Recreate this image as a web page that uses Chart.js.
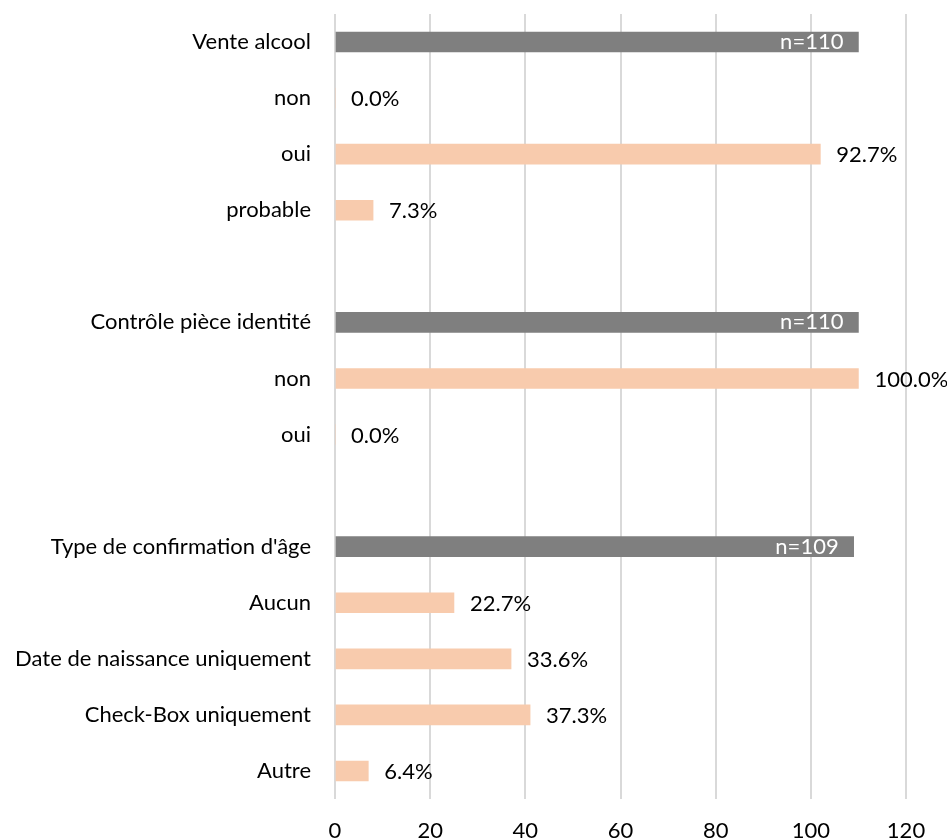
<!DOCTYPE html>
<html>
<head>
<meta charset="utf-8">
<script src="https://cdn.jsdelivr.net/npm/chart.js@4/dist/chart.umd.min.js"></script>
<style>
  html, body { margin:0; padding:0; background:#fff; }
  #wrap { width:947px; height:839px; }
</style>
</head>
<body>
<div id="wrap"><canvas id="chart" width="947" height="839"></canvas></div>
<script>
// rows top to bottom, blank strings are empty spacer rows
let categories = ["Vente alcool","non","oui","probable","",
  "Contrôle pièce identité","non","oui","",
  "Type de confirmation d'âge","Aucun","Date de naissance uniquement","Check-Box uniquement","Autre"];
let values = [110, 0, 102, 8, null, 110, 110, 0, null, 109, 25, 37, 41, 7];
let valueLabels = ["n=110","0.0%","92.7%","7.3%","",
  "n=110","100.0%","0.0%","",
  "n=109","22.7%","33.6%","37.3%","6.4%"];
let isHeader = [true,false,false,false,false,true,false,false,false,true,false,false,false,false];
let xTicks = [0,20,40,60,80,100,120];

const FONT = "Lato, 'Liberation Sans', sans-serif";

const barLabels = {
  id:"barLabels",
  afterDatasetsDraw(c){
    let ctx = c.ctx, meta = c.getDatasetMeta(0), xs = c.scales.x;
    ctx.save();
    ctx.font = "22px " + FONT;
    ctx.textBaseline = "middle";
    meta.data.forEach((bar,i)=>{
      if(values[i]===null) return;
      let txt = valueLabels[i];
      if(isHeader[i]){
        ctx.fillStyle = "#ffffff";
        ctx.textAlign = "right";
        ctx.fillText(txt, bar.x - 15, bar.y);
      } else {
        ctx.fillStyle = "#000000";
        ctx.textAlign = "left";
        ctx.fillText(txt, xs.getPixelForValue(values[i]) + 16, bar.y + 1);
      }
    });
    ctx.restore();
  }
};

new Chart(document.getElementById("chart"), {
  type:"bar",
  data:{
    labels:categories,
    datasets:[{
      data:values,
      backgroundColor:isHeader.map(h=>h ? "#7f7f7f" : "#f8cbad"),
      barThickness:20,
      borderWidth:0
    }]
  },
  options:{
    indexAxis:"y",
    responsive:false,
    animation:false,
    layout:{padding:{top:14, right:41, left:0, bottom:0}},
    plugins:{legend:{display:false}, tooltip:{enabled:false}},
    scales:{
      x:{
        min:0, max:120,
        afterBuildTicks(a){ a.ticks = xTicks.map(v=>({value:v})); },
        grid:{color:"#d9d9d9", lineWidth:2, drawTicks:false},
        border:{display:false},
        ticks:{color:"#000", font:{family:FONT, size:22}, padding:19},
        afterFit(a){ a.height = 40; a.paddingLeft = 0; a.paddingRight = 0; }
      },
      y:{
        grid:{display:false},
        border:{display:false},
        ticks:{color:"#000", font:{family:FONT, size:22}, padding:16, autoSkip:false},
        afterFit(a){ a.width = 335; a.paddingTop = 0; a.paddingBottom = 0; }
      }
    }
  },
  plugins:[barLabels]
});
</script>
</body>
</html>
